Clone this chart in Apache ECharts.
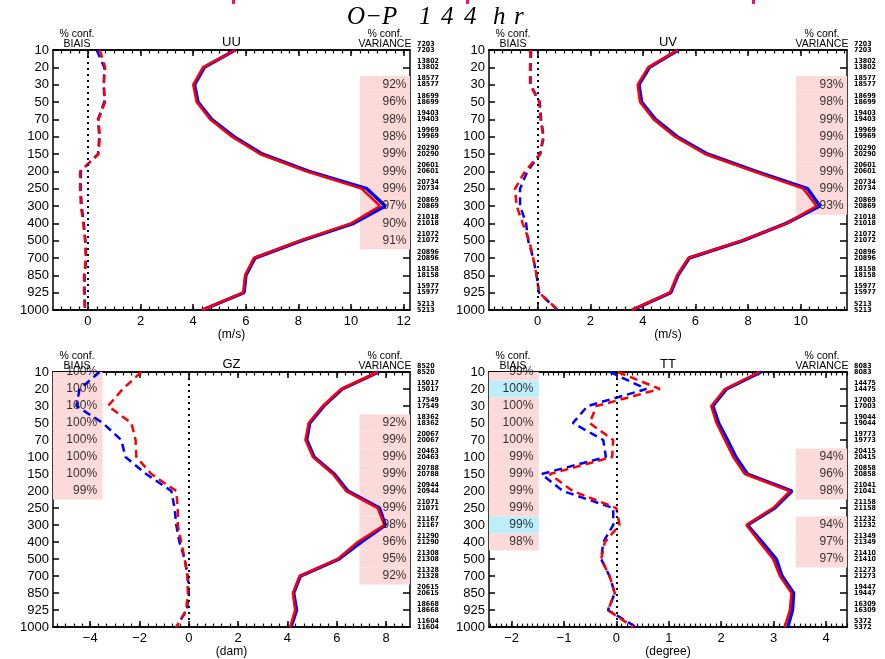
<!DOCTYPE html>
<html><head><meta charset="utf-8">
<script src="https://cdn.jsdelivr.net/npm/echarts@6/dist/echarts.min.js"></script>
<style>html,body{margin:0;padding:0;background:#fff}#c{width:885px;height:659px}</style>
</head><body><div id="c"></div>
<script>
// ---------- DATA ----------
const levels = ['10','20','30','50','70','100','150','200','250','300','400','500','700','850','925','1000'];

const uuCounts = [7203,13802,18577,18699,19403,19969,20290,20601,20734,20869,21018,21072,20896,18158,15977,5213];
const uvCounts = [7203,13802,18577,18699,19403,19969,20290,20601,20734,20869,21018,21072,20896,18158,15977,5213];
const gzCounts = [8520,15017,17549,18362,20067,20463,20788,20944,21071,21167,21290,21308,21328,20615,18668,11604];
const ttCounts = [8083,14475,17003,19044,19773,20415,20858,21041,21158,21232,21349,21410,21273,19447,16309,5372];

const uuVarRed  = [5.6,4.37,4.0,4.13,4.64,5.47,6.54,8.3,10.4,11.1,10.0,8.06,6.3,5.97,5.9,4.33];
const uuVarBlue = [5.6,4.42,4.05,4.18,4.7,5.55,6.62,8.4,10.6,11.3,10.1,8.12,6.35,6.0,5.93,4.35];
const uuBiasRed  = [0.45,0.65,0.6,0.65,0.4,0.45,0.4,-0.3,-0.3,-0.27,-0.18,-0.11,-0.08,-0.15,-0.15,-0.12];
const uuBiasBlue = [0.33,0.62,0.6,0.62,0.38,0.43,0.38,-0.27,-0.28,-0.24,-0.16,-0.1,-0.07,-0.13,-0.13,-0.11];

const uvVarRed  = [5.32,4.2,3.8,3.89,4.4,5.22,6.36,8.2,10.1,10.6,9.47,7.76,5.73,5.3,5.03,3.57];
const uvVarBlue = [5.35,4.25,3.85,3.95,4.48,5.3,6.45,8.3,10.26,10.73,9.45,7.8,5.76,5.33,5.06,3.6];
const uvBiasRed  = [-0.27,-0.29,-0.29,0.06,0.11,0.21,0.09,-0.48,-0.86,-0.8,-0.57,-0.32,-0.17,-0.04,0.05,0.78];
const uvBiasBlue = [-0.25,-0.27,-0.27,0.08,0.13,0.23,0.1,-0.39,-0.67,-0.67,-0.44,-0.36,-0.17,-0.04,0.05,0.75];

const gzVarRed  = [7.66,6.18,5.43,4.86,4.73,5.03,5.84,6.38,7.66,7.93,6.85,6.04,4.49,4.22,4.31,4.11];
const gzVarBlue = [7.7,6.22,5.47,4.9,4.78,5.08,5.9,6.45,7.73,7.97,6.99,6.08,4.52,4.25,4.37,4.14];
const gzBiasRed  = [-1.93,-2.68,-3.28,-2.33,-2.16,-2.13,-1.52,-0.51,-0.45,-0.45,-0.31,-0.17,-0.06,-0.04,-0.11,-0.51];
const gzBiasBlue = [-3.62,-4.43,-4.56,-3.49,-2.74,-2.57,-1.73,-0.71,-0.58,-0.51,-0.38,-0.17,-0.04,0.0,-0.08,-0.51];

const ttVarRed  = [2.73,2.07,1.81,1.91,2.07,2.23,2.45,3.31,2.99,2.48,2.73,2.99,3.12,3.34,3.31,3.21];
const ttVarBlue = [2.76,2.1,1.84,1.95,2.12,2.28,2.5,3.35,3.02,2.5,2.78,3.05,3.16,3.38,3.36,3.27];
const ttBiasRed  = [0.03,0.83,-0.38,-0.51,-0.06,-0.08,-1.27,-0.83,0.0,0.06,-0.22,-0.29,-0.13,-0.03,-0.16,0.32];
const ttBiasBlue = [-0.12,0.57,-0.55,-0.83,-0.25,-0.2,-1.43,-1.02,-0.06,-0.06,-0.25,-0.29,-0.13,-0.03,-0.16,0.38];

// confidence labels per level (null = none); kind: 'p' pink, 'c' cyan
const uuVarConf = [null,null,'92%','96%','98%','98%','99%','99%','99%','97%','90%','91%',null,null,null,null];
const uvVarConf = [null,null,'93%','98%','99%','99%','99%','99%','99%','93%',null,null,null,null,null,null];
const gzVarConf = [null,null,null,'92%','99%','99%','99%','99%','99%','98%','96%','95%','92%',null,null,null];
const gzBiasConf = ['100%','100%','100%','100%','100%','100%','100%','99%',null,null,null,null,null,null,null,null];
const ttVarConf = [null,null,null,null,null,'94%','96%','98%',null,'94%','97%','97%',null,null,null,null];
const ttBiasConf = ['99%','100%','100%','100%','100%','99%','99%','99%','99%','99%','98%',null,null,null,null,null];
const ttBiasKind = ['p','c','p','p','p','p','p','p','p','c','p',null,null,null,null,null];

const uuTicks = [0,2,4,6,8,10,12];
const uvTicks = [0,2,4,6,8,10];
const gzTicks = [-4,-2,0,2,4,6,8];
const ttTicks = [-2,-1,0,1,2,3,4];

// ---------- LAYOUT / STYLE ----------
const FONT = 'Liberation Sans, Arial, sans-serif';
const CFONT = 'DejaVu Sans Condensed, Liberation Sans Narrow, Liberation Sans, sans-serif';
const RED = '#ff0000', BLUE = '#0000ff', PINK = '#fcdada', CYAN = '#bdeefa';
const panels = [
  {name:'UU', unit:'(m/s)', grid:{left:53,top:50,width:357,height:260}, min:-1.33, max:12.24, ticks:uuTicks, minorStep:1/3,
   counts:uuCounts, varR:uuVarRed, varB:uuVarBlue, biasR:uuBiasRed, biasB:uuBiasBlue,
   varConf:uuVarConf, varEdge:10.34, biasConf:null},
  {name:'UV', unit:'(m/s)', grid:{left:489,top:50,width:358,height:260}, min:-1.85, max:11.76, ticks:uvTicks, minorStep:1/3,
   counts:uvCounts, varR:uvVarRed, varB:uvVarBlue, biasR:uvBiasRed, biasB:uvBiasBlue,
   varConf:uvVarConf, varEdge:9.82, biasConf:null},
  {name:'GZ', unit:'(dam)', grid:{left:53,top:372,width:357,height:261}, min:-5.51, max:8.97, ticks:gzTicks, minorStep:1/3,
   counts:gzCounts, varR:gzVarRed, varB:gzVarBlue, biasR:gzBiasRed, biasB:gzBiasBlue,
   varConf:gzVarConf, varEdge:6.92, biasConf:gzBiasConf, biasKind:null, biasEdge:-3.5},
  {name:'TT', unit:'(degree)', grid:{left:489,top:372,width:358,height:261}, min:-2.43, max:4.4, ticks:ttTicks, minorStep:0.1,
   counts:ttCounts, varR:ttVarRed, varB:ttVarBlue, biasR:ttBiasRed, biasB:ttBiasBlue,
   varConf:ttVarConf, varEdge:3.42, biasConf:ttBiasConf, biasKind:ttBiasKind, biasEdge:-1.48}
];

const axLine = {color:'#000', width:1.5};
const fmtNum = v => v < 0 ? '\u2212' + (-v) : String(v);

const grid = [], xAxis = [], yAxis = [], series = [], graphic = [];

panels.forEach((p, i) => {
  grid.push(Object.assign({containLabel:false}, p.grid));
  const minor = [];
  for (let k = Math.ceil(p.min / p.minorStep - 1e-6); k * p.minorStep <= p.max + 1e-9; k++) {
    const v = +(k * p.minorStep).toFixed(6);
    if (v >= p.min && v <= p.max) minor.push(v);
  }
  const base = {gridIndex:i, type:'value', min:p.min, max:p.max, splitLine:{show:false}};
  xAxis.push(Object.assign({}, base, {position:'bottom',
    axisLine:{show:true, onZero:false, lineStyle:axLine},
    axisTick:{show:true, inside:true, length:6, customValues:p.ticks, lineStyle:axLine},
    axisLabel:{show:true, customValues:p.ticks, formatter:fmtNum, margin:5, fontSize:13, color:'#000', fontFamily:FONT},
    name:p.unit, nameLocation:'middle', nameGap:18, nameTextStyle:{fontSize:12, color:'#000', fontFamily:FONT}}));
  xAxis.push(Object.assign({}, base, {position:'top',
    axisLine:{show:true, onZero:false, lineStyle:axLine},
    axisTick:{show:true, inside:true, length:6, customValues:p.ticks, lineStyle:axLine},
    axisLabel:{show:false}}));
  xAxis.push(Object.assign({}, base, {position:'bottom',
    axisLine:{show:true, onZero:false, lineStyle:axLine},
    axisTick:{show:true, inside:true, length:3.5, customValues:minor, lineStyle:{color:'#000', width:1.2}},
    axisLabel:{show:false}}));
  xAxis.push(Object.assign({}, base, {position:'top',
    axisLine:{show:true, onZero:false, lineStyle:axLine},
    axisTick:{show:true, inside:true, length:3.5, customValues:minor, lineStyle:{color:'#000', width:1.2}},
    axisLabel:{show:false}}));

  const ybase = {gridIndex:i, type:'value', min:0, max:15, interval:1, inverse:true, splitLine:{show:false}};
  const cnt = v => (p.counts[v] != null ? String(p.counts[v]) : '');
  yAxis.push(Object.assign({}, ybase, {position:'left',
    axisLine:{show:true, onZero:false, lineStyle:axLine},
    axisTick:{show:true, inside:true, length:6, lineStyle:axLine},
    axisLabel:{formatter:v => levels[v] || '', fontSize:13, margin:4, color:'#000', fontFamily:FONT,
      showMinLabel:true, showMaxLabel:true}}));
  // right axis: ticks + lower copy of the count
  yAxis.push(Object.assign({}, ybase, {position:'right',
    axisLine:{show:true, onZero:false, lineStyle:axLine},
    axisTick:{show:true, inside:true, length:7, lineStyle:axLine},
    axisLabel:{formatter:cnt, fontSize:7, lineHeight:6, fontWeight:'bold', margin:7, color:'#000', fontFamily:CFONT,
      verticalAlign:'middle', showMinLabel:true, showMaxLabel:true}}));
  // right axis: upper copy of the count
  yAxis.push(Object.assign({}, ybase, {position:'right',
    axisLine:{show:false, onZero:false}, axisTick:{show:false},
    axisLabel:{formatter:cnt, fontSize:7, lineHeight:6, fontWeight:'bold', margin:7, color:'#000', fontFamily:CFONT,
      verticalAlign:'bottom', padding:[0,0,3,0], showMinLabel:true, showMaxLabel:true}}));

  // shading cells
  const areas = [];
  const cell = (x0, x1, k, color) => {
    areas.push([{xAxis:x0, yAxis:Math.max(0, k - 0.5), itemStyle:{color:color, opacity:1}},
                {xAxis:x1, yAxis:Math.min(15, k + 0.5)}]);
  };
  p.varConf.forEach((t, k) => { if (t) cell(p.varEdge, p.max, k, PINK); });
  if (p.biasConf) p.biasConf.forEach((t, k) => {
    if (t) cell(p.min, p.biasEdge, k, (p.biasKind && p.biasKind[k] === 'c') ? CYAN : PINK);
  });

  const xa = 4 * i, ya = 3 * i;
  const pts = p.varR.map((v, k) => [v, k]);
  series.push({type:'line', xAxisIndex:xa, yAxisIndex:ya, z:1, silent:true, showSymbol:false,
    data:pts, lineStyle:{opacity:0},
    markArea:{silent:true, label:{show:false}, data:areas},
    markLine:{silent:true, symbol:['none','none'], label:{show:false},
      lineStyle:{color:'#000', type:[2,4], width:2}, data:[{xAxis:0}]}});
  // invisible hosts so the tick-only axes and the count axes are populated
  [[xa + 1, ya + 1], [xa + 2, ya + 1], [xa + 3, ya + 2]].forEach(([ax, ay]) => series.push({type:'line',
    xAxisIndex:ax, yAxisIndex:ay, z:0, silent:true, showSymbol:false, data:pts, lineStyle:{opacity:0}}));
  series.push({type:'line', xAxisIndex:xa, yAxisIndex:ya, z:3, silent:true, showSymbol:false,
    data:p.biasB.map((v, k) => [v, k]), lineStyle:{color:BLUE, width:2.5, type:[8,5]}});
  series.push({type:'line', xAxisIndex:xa, yAxisIndex:ya, z:3, silent:true, showSymbol:false,
    data:p.biasR.map((v, k) => [v, k]), lineStyle:{color:RED, width:2.5, type:[8,5]}});
  series.push({type:'line', xAxisIndex:xa, yAxisIndex:ya, z:4, silent:true, showSymbol:false,
    data:p.varB.map((v, k) => [v, k]), lineStyle:{color:BLUE, width:3.5}});
  series.push({type:'line', xAxisIndex:xa, yAxisIndex:ya, z:4, silent:true, showSymbol:false,
    data:p.varR.map((v, k) => [v, k]), lineStyle:{color:RED, width:2.5}});

  const labs = [];
  p.varConf.forEach((t, k) => { if (t) labs.push({value:[p.max, k], label:{formatter:t, distance:3}}); });
  if (p.biasConf) p.biasConf.forEach((t, k) => { if (t) labs.push({value:[p.biasEdge, k], label:{formatter:t, distance:5}}); });
  series.push({type:'scatter', xAxisIndex:xa, yAxisIndex:ya, z:5, silent:true, symbolSize:1,
    itemStyle:{color:'rgba(0,0,0,0)'}, data:labs,
    label:{show:true, position:'left', color:'#000', fontSize:12, fontFamily:FONT}});

  // headers
  const g = p.grid;
  const txt = (x, y, s, size, align) => graphic.push({type:'text', x:x, y:y,
    style:{text:s, fontSize:size, fontFamily:FONT, fill:'#000', align:align || 'center', verticalAlign:'middle'}});
  txt(g.left + 24, g.top - 16, '% conf.', 10.5);
  txt(g.left + 24, g.top - 6, 'BIAIS', 10.5);
  txt(g.left + g.width - 25, g.top - 16, '% conf.', 10.5);
  txt(g.left + g.width - 25, g.top - 6, 'VARIANCE', 10.5);
  txt(g.left + g.width / 2, g.top - 8, p.name, 13);
});

// title pieces
[['O\u2212P', 347], ['1', 419], ['4', 441], ['4', 464], ['h', 493], ['r', 514]].forEach(([s, x]) => {
  graphic.push({type:'text', x:x, y:30, z:10,
    style:{text:s, fontSize:25, fontStyle:'italic', fontFamily:'Liberation Serif, DejaVu Serif, serif', fill:'#000',
      align:'left', verticalAlign:'bottom'}});
});
// clipped magenta marks at the very top
[232, 466, 752].forEach(x => graphic.push({type:'rect', shape:{x:x, y:0, width:3, height:4}, style:{fill:'#ee1177'}}));

const chart = echarts.init(document.getElementById('c'), null, {renderer:'canvas'});
chart.setOption({animation:false, backgroundColor:'#fff', grid, xAxis, yAxis, series, graphic});
</script>
</body></html>
